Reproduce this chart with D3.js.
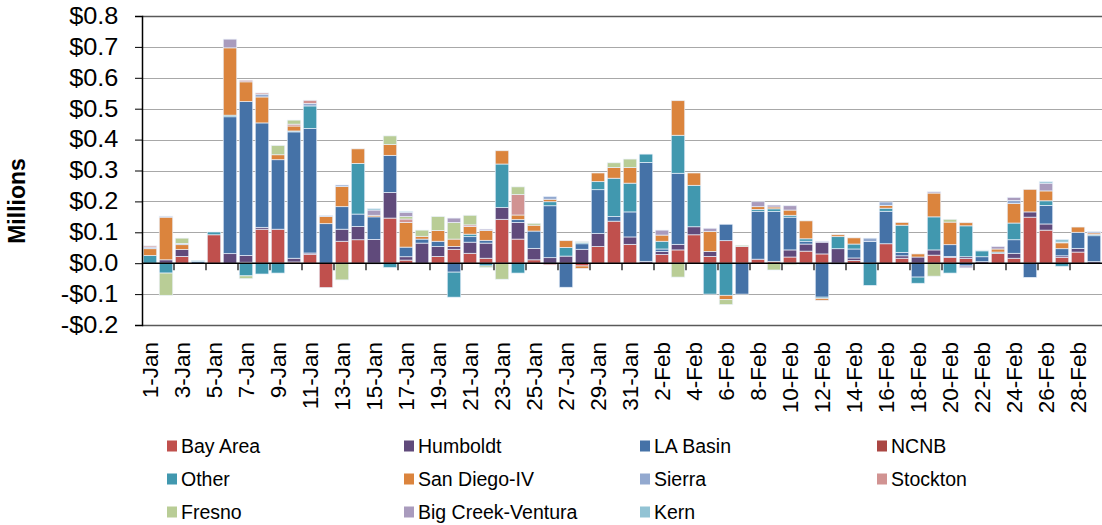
<!DOCTYPE html>
<html>
<head>
<meta charset="utf-8">
<script src="https://cdn.jsdelivr.net/npm/d3@7"></script>
<style>
  body { margin: 0; background: #ffffff; }
  text { font-family: "Liberation Sans", Arial, sans-serif; fill: #000; }
</style>
</head>
<body>
<svg id="chart" width="1102" height="525"></svg>
<script>
// Daily values, in millions of dollars, 1-Jan through 29-Feb
const categories = [
  "1-Jan","2-Jan","3-Jan","4-Jan","5-Jan","6-Jan","7-Jan","8-Jan","9-Jan","10-Jan",
  "11-Jan","12-Jan","13-Jan","14-Jan","15-Jan","16-Jan","17-Jan","18-Jan","19-Jan","20-Jan",
  "21-Jan","22-Jan","23-Jan","24-Jan","25-Jan","26-Jan","27-Jan","28-Jan","29-Jan","30-Jan",
  "31-Jan","1-Feb","2-Feb","3-Feb","4-Feb","5-Feb","6-Feb","7-Feb","8-Feb","9-Feb",
  "10-Feb","11-Feb","12-Feb","13-Feb","14-Feb","15-Feb","16-Feb","17-Feb","18-Feb","19-Feb",
  "20-Feb","21-Feb","22-Feb","23-Feb","24-Feb","25-Feb","26-Feb","27-Feb","28-Feb","29-Feb"
];

const seriesNames = ["Bay Area","Humboldt","LA Basin","NCNB","Other","San Diego-IV",
  "Sierra","Stockton","Fresno","Big Creek-Ventura","Kern"];

const seriesColors = ["#C0504D","#604A7B","#4572A7","#AA4643","#4198AF","#DB843D",
  "#93A9CF","#D19392","#B9CD96","#A99BBD","#92C3D4"];

const yTicks = [-0.2,-0.1,0,0.1,0.2,0.3,0.4,0.5,0.6,0.7,0.8];

const bayArea = [
  0, 0, 0.022, 0, 0.092, 0, 0.003, 0.110, 0.110, 0.004,
  0.029, -0.079, 0.071, 0.076, 0, 0.146, 0.010, 0, 0.022, 0.045,
  0.032, 0.016, 0.142, 0.078, 0.011, -0.005, 0, -0.009, 0.054, 0.136,
  0.061, 0, 0.028, 0.043, 0.092, 0.022, 0.073, 0.054, 0.013, 0.006,
  0.020, 0.039, 0.030, 0, 0.009, 0, 0.063, 0.016, 0, 0.026,
  0.019, 0.015, 0, 0.032, 0.016, 0.149, 0.107, 0.019, 0.036, 0
];
const humboldt = [
  0, 0.011, 0.022, 0, 0, 0.031, 0.022, 0.006, 0, 0.012,
  0.004, 0, 0.039, 0.043, 0.077, 0.083, 0.011, 0.065, 0.032, 0.009,
  0.036, 0.049, 0.038, 0.054, 0.037, 0.018, 0.023, 0.045, 0.042, 0,
  0.024, 0.006, 0.010, 0.018, 0.026, 0.016, 0, 0, 0, 0,
  0.023, 0.023, 0.038, 0.047, 0.008, 0, 0, 0.008, 0.020, 0.017,
  0.003, 0.006, 0.005, 0, 0.016, 0.017, 0.020, 0.005, 0.012, 0.005
];
const laBasin = [
  0, 0, 0, 0.005, 0, 0.443, 0.498, 0.338, 0.225, 0.409,
  0.403, 0.128, 0.073, 0.040, 0.073, 0.120, 0.031, 0.013, 0.017, -0.029,
  0.018, 0.009, 0, 0.009, 0.056, 0.168, -0.078, 0.018, 0.142, 0.015,
  0.081, 0.320, 0.008, 0.230, 0, 0, 0.053, -0.100, 0.155, 0.161,
  0.106, 0.009, -0.110, -0.003, 0.029, 0.070, 0.105, 0.011, -0.045, 0,
  0.038, -0.009, 0.016, 0, 0.044, -0.046, 0.060, 0.023, 0.052, 0.084
];
const ncnb = [
  0, 0, 0, 0, 0, 0, 0, 0, 0, 0,
  0, 0, 0, 0, 0, 0, 0, 0, 0, 0,
  0, 0, 0, 0, 0, 0, 0, 0, 0, 0,
  0, 0, 0, 0, 0, 0, 0, 0, 0, 0,
  0, 0, 0, 0, 0, 0, 0, 0, 0, 0,
  0, 0, 0, 0, 0, 0, 0, 0, 0, 0
];
const other = [
  0.025, -0.032, 0, 0.003, 0.009, 0.005, -0.041, -0.035, -0.032, 0.003,
  0.073, 0, 0, 0.164, 0, -0.014, 0, 0, 0, -0.081,
  0.008, -0.009, 0.141, -0.032, 0, 0.013, 0.028, 0.004, 0.026, 0.124,
  0.093, 0.027, 0.025, 0.123, 0.134, -0.100, -0.104, 0, 0.006, 0.009,
  0.006, 0.008, -0.004, 0.039, 0.016, -0.072, 0.010, 0.088, -0.020, 0.107,
  -0.032, 0.100, 0.019, 0.004, 0.054, 0, 0.015, -0.010, 0, 0.004
];
const sanDiego = [
  0.022, 0.138, 0.016, 0, 0, 0.218, 0.064, 0.084, 0.016, 0.016,
  0, 0.023, 0.065, 0.047, 0.005, 0.035, 0.080, 0.009, 0.035, 0.024,
  0.025, 0.032, 0.043, 0.015, 0.019, 0.008, 0.022, -0.008, 0.028, 0.035,
  0.051, 0, 0.020, 0.112, 0.040, 0.065, -0.014, 0, 0.009, 0.006,
  0.017, 0.058, -0.006, 0.006, 0.020, 0, 0.009, 0.009, 0.010, 0.077,
  0.073, 0.010, 0, 0.010, 0.063, 0.073, 0.032, 0.019, 0.017, 0.005
];
const sierra = [
  0.005, 0.003, 0.004, 0, 0, 0, 0, 0.009, 0, 0,
  0.008, 0.003, 0.005, 0, 0, 0, 0, 0, 0, 0,
  0, 0, 0, 0, 0, 0.009, 0, 0, 0, 0,
  0, 0, 0, 0, 0, 0, 0, 0, 0, 0,
  0, 0, 0, 0, 0, 0.011, 0.011, 0, 0, 0,
  0, 0, 0, 0, 0.010, 0, 0, 0, 0, 0.004
];
const stockton = [
  0.004, 0, 0, 0, 0, 0, 0.005, 0.004, 0, 0.006,
  0.010, 0, 0, 0, -0.003, 0, 0.011, 0, 0, 0,
  0.005, 0, 0, 0.066, 0, 0, 0, 0, 0, 0,
  0, 0, 0, 0, 0, 0, 0, 0, 0, 0,
  0, 0, 0, 0, 0, 0, 0, 0, 0, 0,
  0, 0, 0, 0, 0, 0, 0, 0, 0, 0
];
const fresno = [
  0, -0.072, 0.017, 0, 0, 0, -0.009, 0, 0.030, 0.013,
  0, 0, -0.054, 0, 0, 0.028, 0.008, 0.020, 0.045, 0.054,
  0.031, -0.005, -0.052, 0.025, 0.006, 0, 0, 0.003, 0, 0.015,
  0.027, 0, 0, -0.045, 0, 0, -0.016, 0.004, 0, -0.022,
  -0.005, 0, 0, 0, 0, 0, 0, 0, 0, -0.042,
  0.009, 0, 0.002, 0, 0, 0, 0, 0.002, 0, 0
];
const bigCreek = [
  0, 0, 0, 0, 0, 0.028, 0, 0, 0, 0,
  0, 0, 0, 0, 0.017, 0, 0.014, 0, 0, 0.014,
  0, 0.004, 0, 0, 0, 0, 0, 0, 0, 0,
  0, 0, 0.016, 0, 0, 0.010, 0, 0, 0.016, 0.006,
  0.014, -0.004, 0.003, 0, 0, 0, 0, 0, 0, 0.004,
  0, -0.006, 0, 0.008, 0.010, 0, 0.025, 0, 0, 0
];
const kern = [
  0, 0, 0, 0, 0, 0, 0, 0, 0, 0,
  0, 0, 0, 0, 0.005, 0, 0.003, 0, 0, 0,
  0, 0, 0, 0, 0, 0, 0, 0, 0, 0,
  0, 0, 0, 0, 0, 0, 0, 0, 0, 0,
  0, 0, 0, 0, 0, 0, 0, 0, 0, 0,
  0, 0, 0, 0, 0, 0, 0.005, 0.009, 0, 0
];

const seriesValues = [bayArea, humboldt, laBasin, ncnb, other, sanDiego,
  sierra, stockton, fresno, bigCreek, kern];

// Row table for d3.stack: one object per day
const rows = categories.map((c, i) => {
  const r = { day: c };
  seriesNames.forEach((n, k) => { r[n] = seriesValues[k][i]; });
  return r;
});

const svg = d3.select("#chart");
const plot = { left: 142, right: 1102, top: 16, bottom: 325 };

const x = d3.scaleBand()
  .domain(categories)
  .range([plot.left, plot.right])
  .paddingInner(0.16)
  .paddingOuter(0.08);

const y = d3.scaleLinear()
  .domain([-0.2, 0.8])
  .range([plot.bottom, plot.top]);

const color = d3.scaleOrdinal().domain(seriesNames).range(seriesColors);

// Horizontal gridlines
svg.append("g")
  .selectAll("line")
  .data(yTicks.filter(v => v !== 0))
  .join("line")
  .attr("x1", plot.left).attr("x2", plot.right)
  .attr("y1", d => Math.round(y(d)) + 0.5).attr("y2", d => Math.round(y(d)) + 0.5)
  .attr("stroke", d => (d === 0.8 || d === -0.2) ? "#595959" : "#a8a8a8")
  .attr("stroke-width", d => (d === 0.8 || d === -0.2) ? 1.6 : 1.2);

// Stacked bars, negatives stacked downward from zero
const stack = d3.stack()
  .keys(seriesNames)
  .offset(d3.stackOffsetDiverging);
const layers = stack(rows);

svg.append("g")
  .selectAll("g")
  .data(layers)
  .join("g")
  .attr("fill", d => color(d.key))
  .selectAll("rect")
  .data(d => d.filter(p => p[1] !== p[0]))
  .join("rect")
  .attr("x", d => x(d.data.day))
  .attr("width", x.bandwidth())
  .attr("y", d => y(Math.max(d[0], d[1])))
  .attr("height", d => Math.abs(y(d[0]) - y(d[1])))
  .attr("stroke", "rgba(235,242,252,0.85)")
  .attr("stroke-width", 0.8);

// Y axis
const yAxis = d3.axisLeft(y)
  .tickValues(yTicks)
  .tickSize(7)
  .tickPadding(0)
  .tickFormat(v => (v < 0 ? "-$" : "$") + Math.abs(v).toFixed(1));

const gy = svg.append("g")
  .attr("transform", `translate(${plot.left},0)`)
  .call(yAxis);
gy.select(".domain").attr("stroke", "#000").attr("stroke-width", 1.5);
gy.selectAll(".tick line").attr("stroke", "#000");
gy.selectAll(".tick text")
  .attr("x", -21.5)
  .attr("transform", "scale(1.1,1)")
  .style("font-size", "23px")
  .attr("fill", "#000");

// X axis at zero, with ticks on every second day boundary
const gap = x.step() - x.bandwidth();
svg.append("line")
  .attr("x1", plot.left).attr("x2", plot.right)
  .attr("y1", y(0)).attr("y2", y(0))
  .attr("stroke", "#000").attr("stroke-width", 1.5);

svg.append("g")
  .selectAll("line")
  .data(categories.filter((c, i) => i > 0 && i % 2 === 0))
  .join("line")
  .attr("x1", d => x(d) - gap / 2).attr("x2", d => x(d) - gap / 2)
  .attr("y1", y(0)).attr("y2", y(0) + 7)
  .attr("stroke", "#000").attr("stroke-width", 1.2);

// Day labels, every second day, rotated
svg.append("g")
  .selectAll("text")
  .data(categories.filter((c, i) => i % 2 === 0))
  .join("text")
  .attr("transform", d => `translate(${x(d) + x.bandwidth() / 2},342) rotate(-90)`)
  .attr("text-anchor", "end")
  .attr("dy", "0.36em")
  .style("font-size", "22.5px")
  .text(d => d);

// Y axis title
svg.append("text")
  .attr("transform", "translate(17,201) rotate(-90)")
  .attr("text-anchor", "middle")
  .attr("dy", "0.36em")
  .style("font-size", "23px")
  .style("font-weight", "bold")
  .text("Millions");

// Legend, four columns
const legendCols = [167, 404, 640, 877];
const legendRows = [446, 479, 512];
const legend = svg.append("g")
  .selectAll("g")
  .data(seriesNames)
  .join("g")
  .attr("transform", (d, i) => `translate(${legendCols[i % 4]},${legendRows[Math.floor(i / 4)]})`);
legend.append("rect")
  .attr("x", 0).attr("y", -5.5)
  .attr("width", 10).attr("height", 11)
  .attr("fill", d => color(d));
legend.append("text")
  .attr("x", 14)
  .attr("dy", "0.36em")
  .style("font-size", "19.5px")
  .text(d => d);
</script>
</body>
</html>
